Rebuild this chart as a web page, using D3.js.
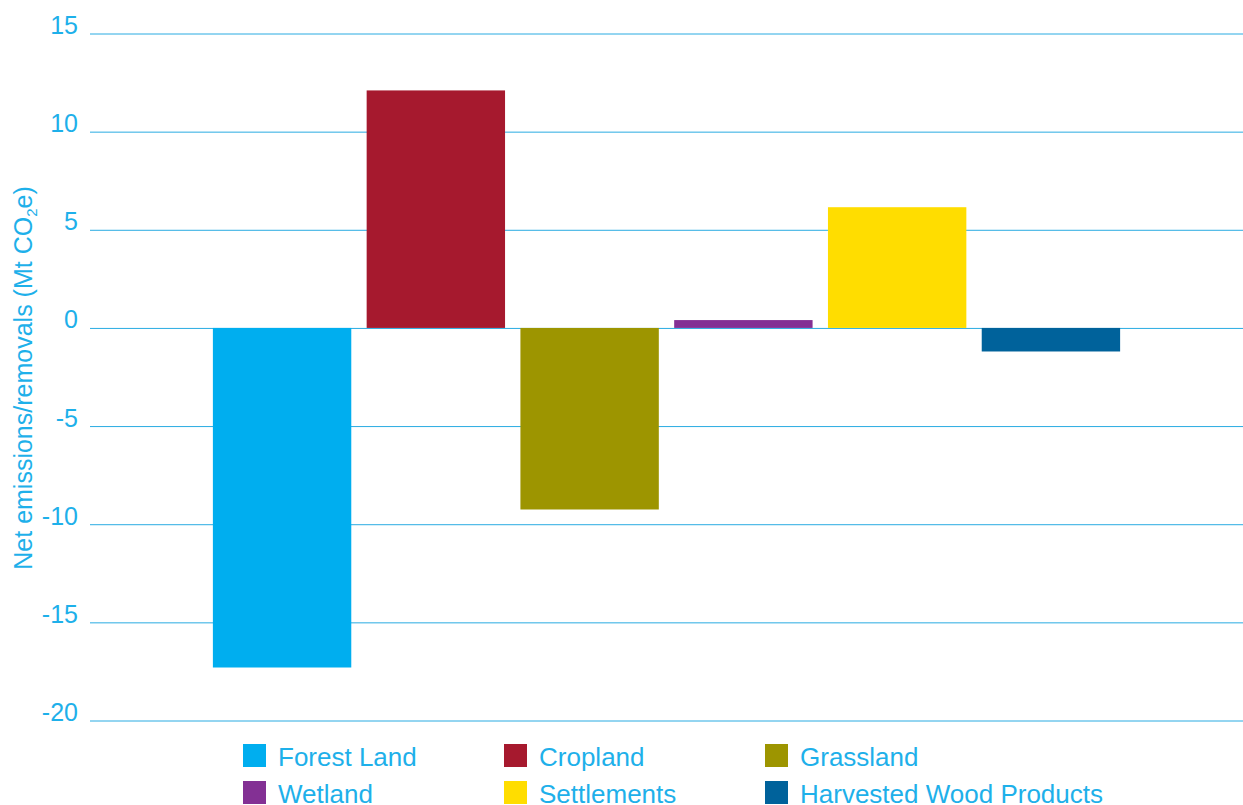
<!DOCTYPE html>
<html>
<head>
<meta charset="utf-8">
<script src="https://cdn.jsdelivr.net/npm/d3@7"></script>
<style>
  html, body { margin: 0; padding: 0; background: #fff; }
  svg { display: block; font-family: "Liberation Sans", Arial, sans-serif; }
</style>
</head>
<body>
<svg id="chart" width="1243" height="805"></svg>
<script>
const categories = ["Forest Land", "Cropland", "Grassland", "Wetland", "Settlements", "Harvested Wood Products"];
const values = [-17.3, 12.1, -9.25, 0.4, 6.15, -1.2];
const colors = ["#00AEEF", "#A6192E", "#9D9500", "#833094", "#FFDD00", "#00629B"];
const tickValues = [15, 10, 5, 0, -5, -10, -15, -20];
const legendOrder = ["Forest Land", "Cropland", "Grassland", "Wetland", "Settlements", "Harvested Wood Products"];

const textColor = "#1EB0EA";
const gridColor = "#29ABE2";

const svg = d3.select("#chart");

const y = d3.scaleLinear().domain([-20, 15]).range([720.5, 33.5]);
const x = d3.scaleBand().domain(categories).range([136, 1197]).paddingInner(0.1).paddingOuter(0.5);

// gridlines
const yAxis = d3.axisLeft(y).tickValues(tickValues).tickSize(-(1243 - 90)).tickFormat(d => d);
const gAxis = svg.append("g").attr("transform", "translate(90,0)").call(yAxis);
gAxis.select(".domain").remove();
gAxis.selectAll(".tick line").attr("stroke", gridColor).attr("stroke-width", 1);
gAxis.selectAll(".tick text")
  .attr("x", -12).attr("dy", 0)
  .attr("fill", textColor)
  .attr("font-size", 25)
  .attr("text-anchor", "end");

// bars
svg.append("g").selectAll("rect").data(categories).join("rect")
  .attr("x", d => x(d))
  .attr("width", x.bandwidth())
  .attr("y", (d, i) => y(Math.max(0, values[i])))
  .attr("height", (d, i) => Math.abs(y(values[i]) - y(0)))
  .attr("fill", (d, i) => colors[i]);

// y title
const title = svg.append("text")
  .attr("transform", "translate(32,378) rotate(-90)")
  .attr("text-anchor", "middle")
  .attr("fill", textColor)
  .attr("font-size", 25);
title.append("tspan").text("Net emissions/removals (Mt CO");
title.append("tspan").text("2").attr("font-size", 15).attr("dy", 5);
title.append("tspan").text("e)").attr("dy", -5);

// legend
const legCols = [243, 504, 765];
const legRows = [744, 781];
const leg = svg.append("g");
legendOrder.forEach((name, i) => {
  const col = i % 3, row = Math.floor(i / 3);
  const ci = categories.indexOf(name);
  leg.append("rect")
    .attr("x", legCols[col]).attr("y", legRows[row])
    .attr("width", 23).attr("height", 23)
    .attr("fill", colors[ci]);
  leg.append("text")
    .attr("x", legCols[col] + 35).attr("y", legRows[row] + 22)
    .attr("fill", textColor)
    .attr("font-size", 26)
    .text(name);
});
</script>
</body>
</html>
